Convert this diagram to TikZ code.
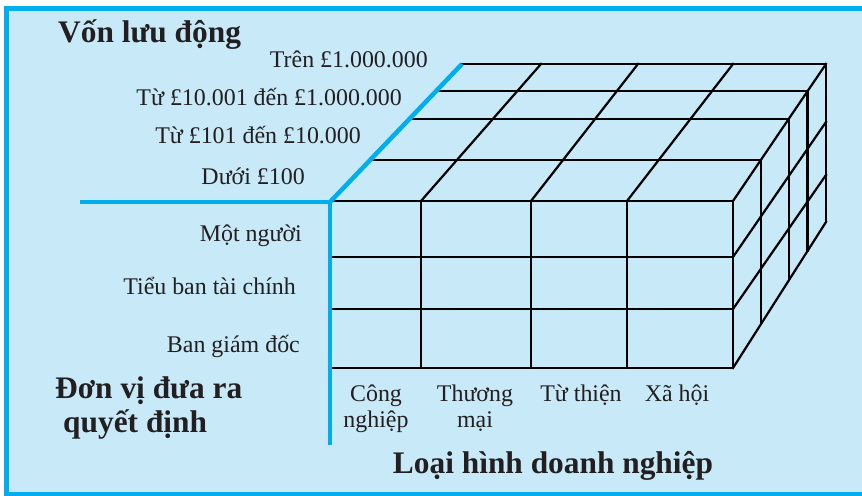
\documentclass[tikz,border=0pt]{standalone}
\usepackage{fontspec}
\setmainfont{Liberation Serif}
\usetikzlibrary{calc, positioning}
\definecolor{panel-fill}{HTML}{C7E9F8}
\definecolor{panel-border}{HTML}{00AEEF}
\definecolor{label-ink}{HTML}{231F20}
\tikzset{
  grid-line/.style={draw=black, line width=2.2bp, line cap=rect},
  axis-line/.style={draw=panel-border, line width=4.5bp},
  level-label/.style={
    text=label-ink, inner sep=0pt, align=center,
    font=\fontsize{24}{26}\selectfont
  },
  title-label/.style={
    text=label-ink, inner sep=0pt, align=left,
    font=\bfseries\fontsize{31.5}{34}\selectfont
  }
}

\begin{document}
\begin{tikzpicture}[x=1bp, y=-1bp]
  \fill[white] (0,0) rectangle (862,496);
  \useasboundingbox (0,0) rectangle (862,496);
  \fill[panel-fill] (6.5,8.5) rectangle (862,494.5);
  \draw[draw=panel-border, line width=5bp] (862,8.5) -- (6.5,8.5) -- (6.5,494.5) -- (862,494.5);

  % cube corners
  \coordinate (ftl) at (330,201);
  \coordinate (ftr) at (733,201);
  \coordinate (fbr) at (733,368);
  \coordinate (btl) at (462,64);
  \coordinate (btr) at (826,64);
  \coordinate (bbr) at (826,222);

  % front face
  \foreach \y in {201,257,309,368}
    \draw[grid-line] (330,\y) -- (733,\y);
  \foreach \x in {421,531,627,733}
    \draw[grid-line] (\x,201) -- (\x,368);
  % top face
  \foreach \t in {0.3,0.6,0.8,1}
    \draw[grid-line] ($(ftl)!\t!(btl)$) -- ($(ftr)!\t!(btr)$);
  \foreach \f/\b in {421/541,531/638,627/733,733/826}
    \draw[grid-line] (\f,201) -- (\b,64);
  % right face
  \foreach \t in {0.3,0.6,0.8,1}
    \draw[grid-line] ($(ftr)!\t!(btr)$) -- ($(fbr)!\t!(bbr)$);
  \foreach \f/\b in {257/122,309/175,368/222}
    \draw[grid-line] (733,\f) -- (826,\b);

  % axes
  \draw[axis-line] (80,202) -- (330,202) -- (330,445);
  \draw[axis-line] (330,202) -- (462,64);

  % working capital levels
  \node[title-label, anchor=base west] (capital-title) at (58,43) {Vốn lưu động};
  \node[level-label, anchor=base east] (capital-top)  at (428,68)  {Trên £1.000.000};
  \node[level-label, anchor=base east] (capital-high) at (402,106) {Từ £10.001 đến £1.000.000};
  \node[level-label, anchor=base east] (capital-mid)  at (361,144) {Từ £101 đến £10.000};
  \node[level-label, anchor=base east] (capital-low)  at (305,185) {Dưới £100};

  % decision units
  \node[level-label, anchor=base east] (unit-one)   at (302,242) {Một người};
  \node[level-label, anchor=base east] (unit-panel) at (296,295) {Tiểu ban tài chính};
  \node[level-label, anchor=base east] (unit-board) at (300,352) {Ban giám đốc};
  \node[title-label, anchor=base west] (unit-title) at (55,432) {Đơn vị đưa ra\\\hspace*{8bp}quyết định};

  % business types
  \node[level-label, anchor=base] (type-industry) at (376,427) {Công\\nghiệp};
  \node[level-label, anchor=base] (type-trade)    at (475,427) {Thương\\mại};
  \node[level-label, anchor=base] (type-charity)  at (581,401) {Từ thiện};
  \node[level-label, anchor=base] (type-social)   at (677,401) {Xã hội};
  \node[title-label, anchor=base] (type-title)    at (553,473) {Loại hình doanh nghiệp};
\end{tikzpicture}
\end{document}
